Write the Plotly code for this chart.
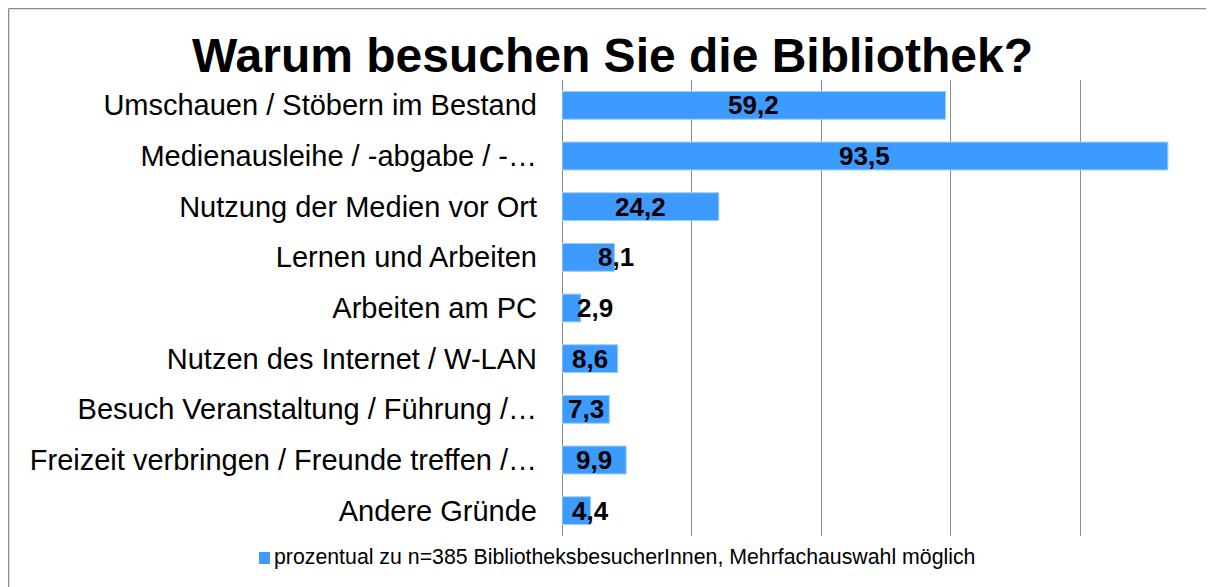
import plotly.graph_objects as go

categories = [
    "Umschauen / Stöbern im Bestand",
    "Medienausleihe / -abgabe / -…",
    "Nutzung der Medien vor Ort",
    "Lernen und Arbeiten",
    "Arbeiten am PC",
    "Nutzen des Internet / W-LAN",
    "Besuch Veranstaltung / Führung /…",
    "Freizeit verbringen / Freunde treffen /…",
    "Andere Gründe",
]
values = [59.2, 93.5, 24.2, 8.1, 2.9, 8.6, 7.3, 9.9, 4.4]
series_name = "prozentual zu n=385 BibliotheksbesucherInnen, Mehrfachauswahl möglich"
title_text = "Warum besuchen Sie die Bibliothek?"

FONT = "Liberation Sans, Arial, sans-serif"
BAR = "#3d9bff"
GRID = "#8c8c8c"

# a few data labels were nudged to the right in the original (pixel shifts, styling only)
label_xshift = {"Lernen und Arbeiten": 28, "Arbeiten am PC": 24, "Andere Gründe": 14}

labels = [f"{v:.1f}".replace(".", ",") for v in values]

fig = go.Figure()
fig.add_trace(go.Bar(
    x=values, y=categories, orientation="h", name=series_name,
    marker=dict(color=BAR, line=dict(color="#9fcdff", width=1)),
    hoverinfo="x+y", showlegend=False,
))

# page body has an 8px margin: figure origin sits at screen (8, 8)
OFF = 8
W, H = 1214 - OFF, 587 - OFF
L = 562 - OFF
T = 80 - OFF
B = H - (536 - OFF)
R = W - (1210 - OFF)
pw, ph = W - L - R, H - T - B
fx = lambda sx: (sx - OFF - L) / pw
fy = lambda sy: (H - B - (sy - OFF)) / ph

annotations = [
    dict(x=v / 2, y=c, xref="x", yref="y", text=f"<b>{t}</b>", showarrow=False,
         xanchor="center", yanchor="middle", xshift=label_xshift.get(c, 0),
         font=dict(family=FONT, size=26, color="black"))
    for c, v, t in zip(categories, values, labels)
]
annotations.append(
    dict(xref="paper", yref="paper", x=fx(272), y=fy(557), xanchor="left",
         yanchor="middle", showarrow=False, text=series_name,
         font=dict(size=21.3, family=FONT, color="black"))
)

fig.update_layout(
    width=W, height=H,
    margin=dict(l=L, r=R, t=T, b=B, pad=0),
    paper_bgcolor="white", plot_bgcolor="white",
    font=dict(family=FONT, color="black"),
    title=dict(text=f"<b>{title_text}</b>", x=(612.5 - OFF) / W, xref="container",
               xanchor="center", y=1 - (55 - OFF) / H, yref="container", yanchor="middle",
               font=dict(size=48, family=FONT, color="black")),
    bargap=0.45,
    showlegend=False,
    annotations=annotations,
    shapes=[
        dict(type="line", xref="paper", yref="paper", x0=fx(8.5), x1=fx(8.5),
             y0=fy(600), y1=fy(8.5), line=dict(color=GRID, width=1.5)),
        dict(type="line", xref="paper", yref="paper", x0=fx(8.5), x1=fx(1230),
             y0=fy(8.5), y1=fy(8.5), line=dict(color=GRID, width=1.5)),
        dict(type="rect", xref="paper", yref="paper", x0=fx(259), x1=fx(270),
             y0=fy(564), y1=fy(552), line=dict(width=0), fillcolor=BAR),
    ],
)
fig.update_xaxes(range=[0, 100], dtick=20, showgrid=True, gridcolor=GRID, gridwidth=1.2,
                 showticklabels=False, zeroline=True, zerolinecolor=GRID, zerolinewidth=1.2,
                 showline=False, fixedrange=True)
fig.update_yaxes(autorange="reversed", showgrid=False, showline=False, ticks="",
                 tickfont=dict(size=29, family=FONT, color="black"),
                 ticklabelstandoff=24, fixedrange=True)

fig.write_html("out.html")
